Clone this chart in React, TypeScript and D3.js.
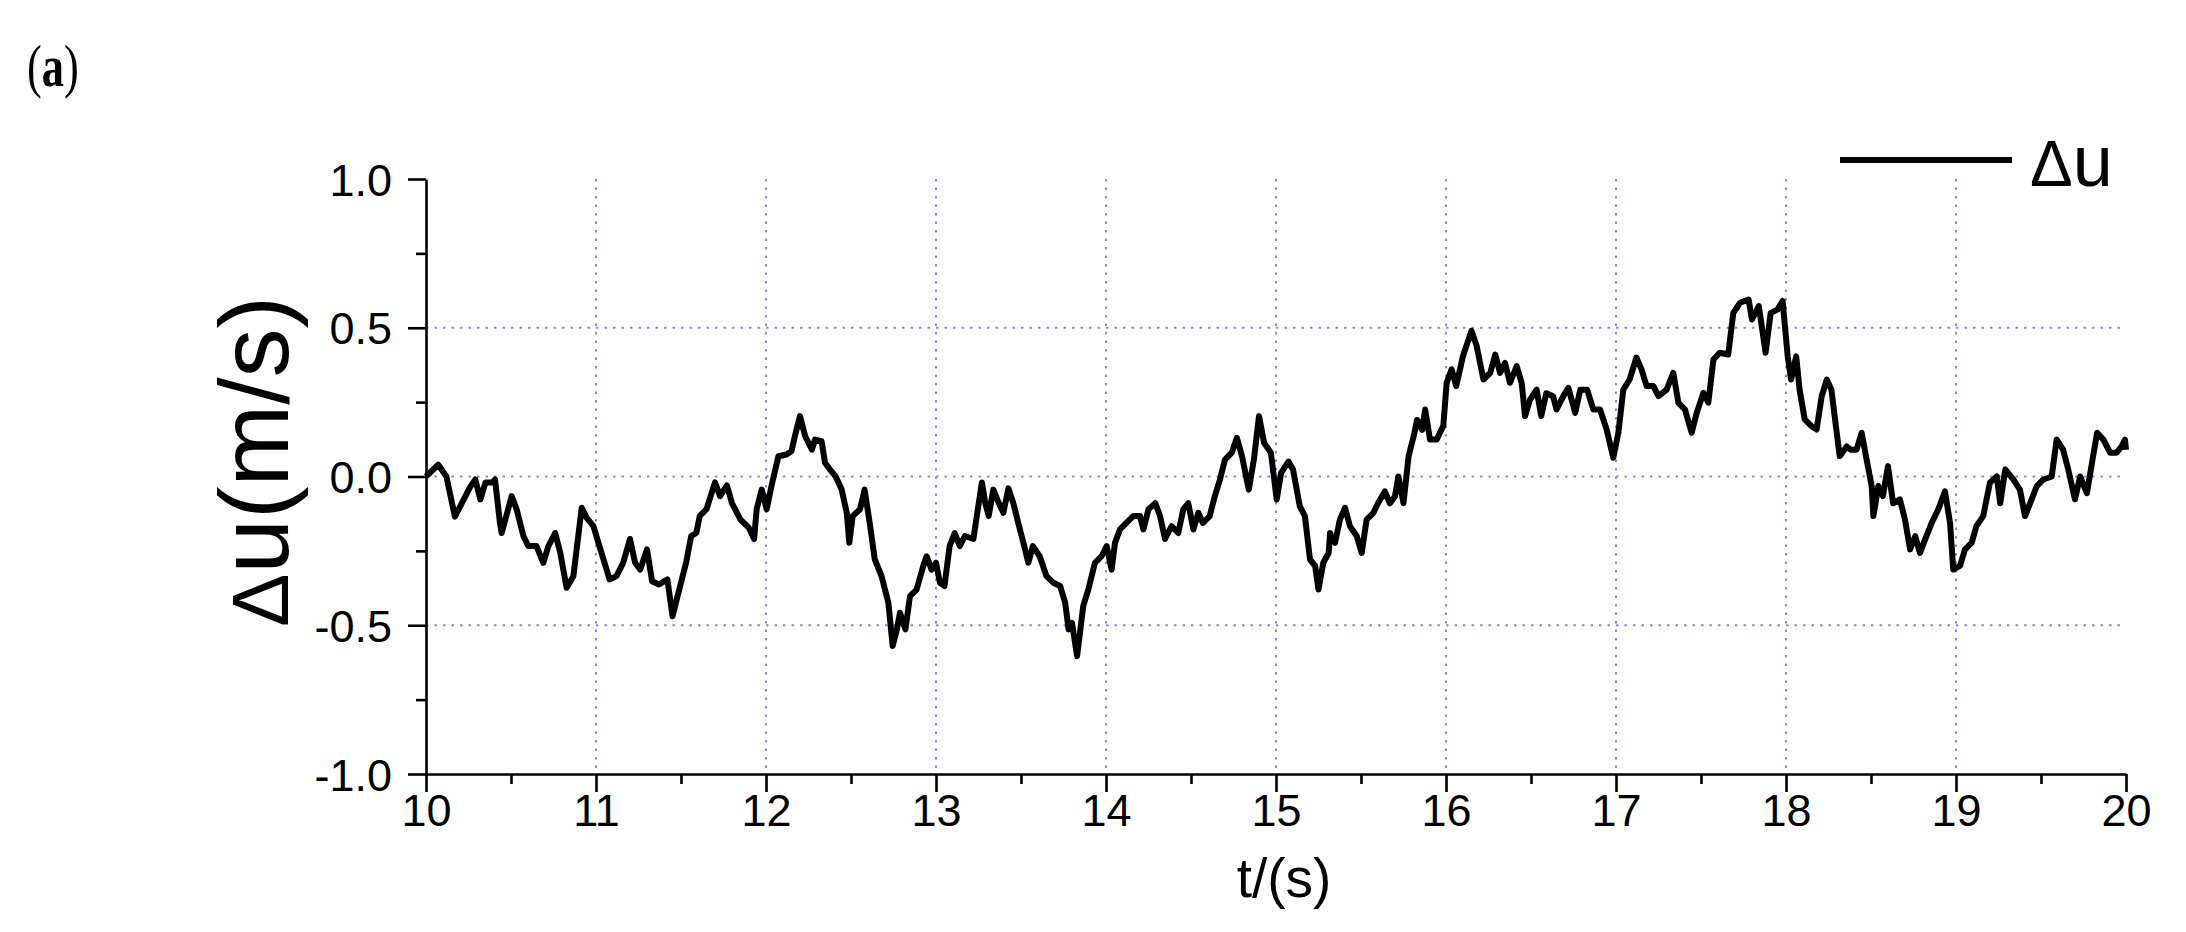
import React, { useEffect, useRef } from 'react';
import * as d3 from 'd3';

// time axis (s) and velocity fluctuation (m/s)
const time = [
  10.000, 10.072, 10.120, 10.170, 10.210, 10.260, 10.290, 10.320, 10.350, 10.390,
  10.406, 10.435, 10.445, 10.504, 10.533, 10.573, 10.602, 10.650, 10.690, 10.720,
  10.760, 10.790, 10.827, 10.867, 10.916, 10.945, 10.985, 11.020, 11.080, 11.120,
  11.160, 11.200, 11.230, 11.260, 11.300, 11.330, 11.370, 11.420, 11.450, 11.480,
  11.530, 11.560, 11.590, 11.610, 11.650, 11.700, 11.730, 11.770, 11.800, 11.850,
  11.900, 11.930, 11.945, 11.975, 12.004, 12.033, 12.073, 12.120, 12.150, 12.170,
  12.200, 12.230, 12.270, 12.288, 12.327, 12.347, 12.376, 12.410, 12.445, 12.475,
  12.490, 12.510, 12.553, 12.580, 12.610, 12.640, 12.680, 12.720, 12.745, 12.770,
  12.788, 12.820, 12.847, 12.886, 12.925, 12.945, 12.974, 13.000, 13.023, 13.050,
  13.080, 13.110, 13.140, 13.170, 13.220, 13.240, 13.270, 13.290, 13.310, 13.337,
  13.370, 13.396, 13.426, 13.455, 13.484, 13.514, 13.543, 13.570, 13.610, 13.650,
  13.690, 13.730, 13.760, 13.780, 13.800, 13.830, 13.866, 13.896, 13.935, 13.974,
  14.004, 14.033, 14.053, 14.082, 14.120, 14.160, 14.200, 14.220, 14.250, 14.290,
  14.318, 14.347, 14.386, 14.425, 14.455, 14.484, 14.514, 14.543, 14.570, 14.610,
  14.640, 14.670, 14.700, 14.740, 14.770, 14.800, 14.840, 14.870, 14.900, 14.930,
  14.970, 15.004, 15.030, 15.073, 15.100, 15.140, 15.170, 15.200, 15.230, 15.250,
  15.278, 15.310, 15.318, 15.347, 15.376, 15.406, 15.435, 15.475, 15.504, 15.533,
  15.573, 15.600, 15.640, 15.670, 15.700, 15.720, 15.750, 15.780, 15.810, 15.830,
  15.860, 15.877, 15.906, 15.945, 15.984, 16.004, 16.033, 16.060, 16.100, 16.150,
  16.180, 16.220, 16.260, 16.290, 16.318, 16.347, 16.376, 16.416, 16.445, 16.465,
  16.494, 16.533, 16.560, 16.590, 16.630, 16.650, 16.690, 16.720, 16.760, 16.790,
  16.830, 16.867, 16.906, 16.945, 16.984, 17.014, 17.043, 17.080, 17.120, 17.150,
  17.180, 17.220, 17.250, 17.298, 17.337, 17.367, 17.406, 17.445, 17.475, 17.514,
  17.543, 17.573, 17.610, 17.660, 17.690, 17.730, 17.780, 17.800, 17.840, 17.880,
  17.910, 17.950, 17.980, 18.010, 18.030, 18.060, 18.080, 18.110, 18.150, 18.180,
  18.210, 18.240, 18.267, 18.296, 18.316, 18.357, 18.380, 18.415, 18.445, 18.474,
  18.504, 18.514, 18.543, 18.570, 18.600, 18.630, 18.670, 18.700, 18.730, 18.760,
  18.788, 18.818, 18.857, 18.896, 18.935, 18.965, 18.984, 19.024, 19.053, 19.092,
  19.120, 19.160, 19.200, 19.240, 19.260, 19.290, 19.337, 19.376, 19.406, 19.445,
  19.475, 19.514, 19.563, 19.592, 19.630, 19.660, 19.700, 19.730, 19.770, 19.800,
  19.830, 19.867, 19.906, 19.945, 19.974, 19.994, 20.000,
];

const du = [
  0.000, 0.040, 0.000, -0.135, -0.090, -0.035, -0.010, -0.077, -0.020, -0.020,
  -0.010, -0.156, -0.190, -0.066, -0.110, -0.200, -0.234, -0.234, -0.290, -0.234,
  -0.190, -0.257, -0.374, -0.335, -0.105, -0.139, -0.167, -0.234, -0.346, -0.335,
  -0.290, -0.210, -0.290, -0.313, -0.245, -0.352, -0.363, -0.346, -0.470, -0.402,
  -0.290, -0.200, -0.190, -0.133, -0.110, -0.020, -0.066, -0.030, -0.090, -0.145,
  -0.173, -0.210, -0.110, -0.044, -0.110, -0.030, 0.068, 0.074, 0.085, 0.136,
  0.203, 0.136, 0.090, 0.124, 0.119, 0.046, 0.024, 0.000, -0.044, -0.122,
  -0.223, -0.133, -0.110, -0.044, -0.156, -0.279, -0.335, -0.425, -0.570, -0.514,
  -0.458, -0.514, -0.402, -0.380, -0.301, -0.268, -0.313, -0.290, -0.357, -0.368,
  -0.234, -0.190, -0.234, -0.200, -0.210, -0.133, -0.020, -0.090, -0.133, -0.044,
  -0.090, -0.122, -0.040, -0.090, -0.156, -0.223, -0.290, -0.234, -0.268, -0.335,
  -0.357, -0.368, -0.425, -0.514, -0.492, -0.604, -0.436, -0.380, -0.290, -0.268,
  -0.234, -0.313, -0.223, -0.178, -0.156, -0.133, -0.133, -0.178, -0.110, -0.090,
  -0.133, -0.210, -0.167, -0.190, -0.110, -0.090, -0.178, -0.122, -0.156, -0.133,
  -0.066, -0.011, 0.057, 0.080, 0.130, 0.068, -0.044, 0.057, 0.203, 0.113,
  0.080, -0.077, 0.012, 0.050, 0.024, -0.100, -0.133, -0.279, -0.300, -0.380,
  -0.290, -0.257, -0.190, -0.223, -0.145, -0.105, -0.167, -0.200, -0.257, -0.145,
  -0.122, -0.090, -0.050, -0.090, -0.066, 0.000, -0.090, 0.068, 0.136, 0.190,
  0.157, 0.225, 0.124, 0.124, 0.170, 0.315, 0.360, 0.304, 0.405, 0.490,
  0.440, 0.326, 0.348, 0.410, 0.348, 0.382, 0.315, 0.371, 0.315, 0.203,
  0.258, 0.292, 0.203, 0.280, 0.270, 0.225, 0.270, 0.298, 0.214, 0.292,
  0.292, 0.225, 0.225, 0.158, 0.063, 0.147, 0.292, 0.326, 0.400, 0.360,
  0.304, 0.304, 0.270, 0.292, 0.348, 0.248, 0.225, 0.147, 0.214, 0.281,
  0.248, 0.393, 0.416, 0.410, 0.550, 0.584, 0.595, 0.528, 0.573, 0.416,
  0.550, 0.561, 0.590, 0.404, 0.326, 0.404, 0.292, 0.192, 0.169, 0.158,
  0.270, 0.326, 0.292, 0.158, 0.068, 0.101, 0.090, 0.090, 0.147, 0.057,
  -0.032, -0.133, -0.032, -0.066, 0.035, -0.090, -0.077, -0.145, -0.245, -0.200,
  -0.257, -0.212, -0.156, -0.110, -0.050, -0.156, -0.313, -0.300, -0.245, -0.223,
  -0.167, -0.133, -0.020, 0.000, -0.090, 0.024, -0.010, -0.044, -0.133, -0.077,
  -0.032, -0.010, 0.000, 0.124, 0.090, 0.024, -0.077, 0.000, -0.056, 0.046,
  0.147, 0.124, 0.080, 0.080, 0.101, 0.124, 0.090,
];

const xTicks = [10, 11, 12, 13, 14, 15, 16, 17, 18, 19, 20];
const xMinor = [10.5, 11.5, 12.5, 13.5, 14.5, 15.5, 16.5, 17.5, 18.5, 19.5];
const yTicks = [-1.0, -0.5, 0.0, 0.5, 1.0];
const yMinor = [-0.75, -0.25, 0.25, 0.75];
const xGrid = [11, 12, 13, 14, 15, 16, 17, 18, 19];
const yGrid = [-0.5, 0.0, 0.5];

const App = () => {
  const ref = useRef<SVGSVGElement>(null);

  useEffect(() => {
    const svg = d3.select(ref.current);
    svg.selectAll('*').remove();

    const x = d3.scaleLinear().domain([10, 20]).range([426, 2126]);
    const y = d3.scaleLinear().domain([-1, 1]).range([774, 179]);
    const font = '"Liberation Sans", Arial, sans-serif';
    const gridColor = '#8a8ac8';

    // dotted grid
    svg.append('g').selectAll('line').data(xGrid).enter().append('line')
      .attr('x1', d => x(d)).attr('x2', d => x(d))
      .attr('y1', y(1)).attr('y2', y(-1))
      .attr('stroke', gridColor).attr('stroke-width', 2)
      .attr('stroke-dasharray', '2.5 6');
    svg.append('g').selectAll('line').data(yGrid).enter().append('line')
      .attr('x1', x(10)).attr('x2', x(20))
      .attr('y1', d => y(d)).attr('y2', d => y(d))
      .attr('stroke', gridColor).attr('stroke-width', 2)
      .attr('stroke-dasharray', '2.5 6');

    // axes
    const xAxis = d3.axisBottom(x).tickValues(xTicks).tickSize(18).tickSizeOuter(0)
      .tickPadding(2).tickFormat(d => String(d));
    const xMinorAxis = d3.axisBottom(x).tickValues(xMinor).tickSize(10).tickFormat(() => '');
    const yAxis = d3.axisLeft(y).tickValues(yTicks).tickSize(18).tickSizeOuter(0)
      .tickPadding(16).tickFormat(d => (+d).toFixed(1));
    const yMinorAxis = d3.axisLeft(y).tickValues(yMinor).tickSize(10).tickFormat(() => '');

    const gx = svg.append('g').attr('transform', `translate(0,${y(-1)})`).call(xAxis);
    svg.append('g').attr('transform', `translate(0,${y(-1)})`).call(xMinorAxis)
      .select('.domain').remove();
    const gy = svg.append('g').attr('transform', `translate(${x(10)},0)`).call(yAxis);
    svg.append('g').attr('transform', `translate(${x(10)},0)`).call(yMinorAxis)
      .select('.domain').remove();

    svg.selectAll('.domain').attr('stroke', '#000').attr('stroke-width', 2.6);
    svg.selectAll('.tick line').attr('stroke', '#000').attr('stroke-width', 2.6);
    [gx, gy].forEach(g => g.selectAll('text')
      .attr('font-family', font).attr('font-size', 45).attr('fill', '#000'));
    gy.selectAll('text').attr('dy', '0.36em');

    // signal
    const line = d3.line<number>()
      .x((_, i) => x(time[i]))
      .y(d => y(d));
    svg.append('path')
      .attr('d', line(du))
      .attr('fill', 'none')
      .attr('stroke', '#000')
      .attr('stroke-width', 6)
      .attr('stroke-linejoin', 'round');

    // axis titles
    const yTitle = svg.append('text')
      .attr('transform', `translate(288,${y(0) - 15}) rotate(-90)`)
      .attr('text-anchor', 'middle')
      .attr('font-family', font).attr('font-size', 98).attr('fill', '#000');
    yTitle.append('tspan').attr('font-size', 80).text('Δ');
    yTitle.append('tspan').text('u(m/s)');

    svg.append('text')
      .attr('x', 1284).attr('y', 897)
      .attr('text-anchor', 'middle')
      .attr('font-family', font).attr('font-size', 55).attr('fill', '#000')
      .text('t/(s)');

    // legend
    svg.append('line')
      .attr('x1', 1840).attr('x2', 2012).attr('y1', 160).attr('y2', 160)
      .attr('stroke', '#000').attr('stroke-width', 6);
    const leg = svg.append('text')
      .attr('x', 2030).attr('y', 186)
      .attr('font-family', font).attr('font-size', 72).attr('fill', '#000');
    leg.append('tspan').attr('font-size', 64).text('Δ');
    leg.append('tspan').text('u');

    // panel label
    const panel = svg.append('text')
      .attr('transform', 'translate(27,86) scale(0.74,1)')
      .attr('font-family', '"Liberation Serif", "Times New Roman", serif')
      .attr('font-size', 60).attr('fill', '#000');
    panel.append('tspan').text('(');
    panel.append('tspan').attr('font-weight', 'bold').text('a');
    panel.append('tspan').text(')');
  }, []);

  return (
    <svg
      ref={ref}
      width={2186}
      height={932}
      style={{ position: 'absolute', left: 0, top: 0, background: '#fff' }}
    />
  );
};

export default App;
